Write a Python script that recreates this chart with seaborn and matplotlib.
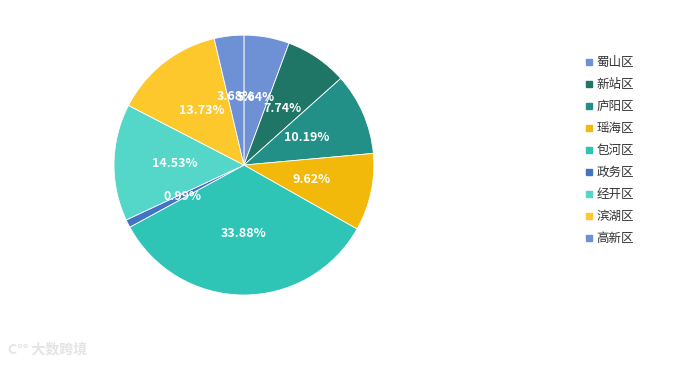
import matplotlib
matplotlib.use("Agg")
import matplotlib.pyplot as plt
from matplotlib.lines import Line2D
import seaborn as sns

# ── Dados ─────────────────────────────────────────────
districts = ["蜀山区", "新站区", "庐阳区", "瑶海区", "包河区",
             "政务区", "经开区", "滨湖区", "高新区"]
shares = [5.64, 7.74, 10.19, 9.62, 33.88, 0.99, 14.53, 13.73, 3.68]
colors = ["#6e90d4", "#1f7566", "#239087", "#f2b90a", "#2ec4b6",
          "#4472c4", "#54d6c8", "#fdc82b", "#6e90d4"]

# ── Estilo ────────────────────────────────────────────
sns.set_theme(style="white")
plt.rcParams["font.family"] = ["Noto Sans CJK SC", "DejaVu Sans"]

fig = plt.figure(figsize=(6.93, 3.66), dpi=100)
ax = fig.add_axes([0.1645, 0.194, 0.375, 0.710])

wedges, texts, autotexts = ax.pie(
    shares,
    colors=colors,
    startangle=90,
    counterclock=False,
    autopct="%.2f%%",
    pctdistance=0.53,
    wedgeprops=dict(edgecolor="white", linewidth=0.6),
    textprops=dict(color="white", fontsize=9),
)
for t in autotexts:
    t.set_fontweight("semibold")
ax.set_xlim(-1, 1)
ax.set_ylim(-1, 1)
ax.set_aspect("equal")

handles = [Line2D([0], [0], marker="s", linestyle="", markersize=5,
                  markerfacecolor=c, markeredgecolor=c) for c in colors]
fig.legend(handles, districts, loc="upper left",
           bbox_to_anchor=(0.825, 0.878), frameon=False,
           fontsize=9, labelspacing=0.72, handletextpad=0.1,
           handlelength=1.0, labelcolor="#333333")

fig.text(0.012, 0.035, "C°° 大数跨境", fontsize=10,
         color="#e4e4e4", fontweight="bold")

fig.savefig("out.png", dpi=100, facecolor="white")
